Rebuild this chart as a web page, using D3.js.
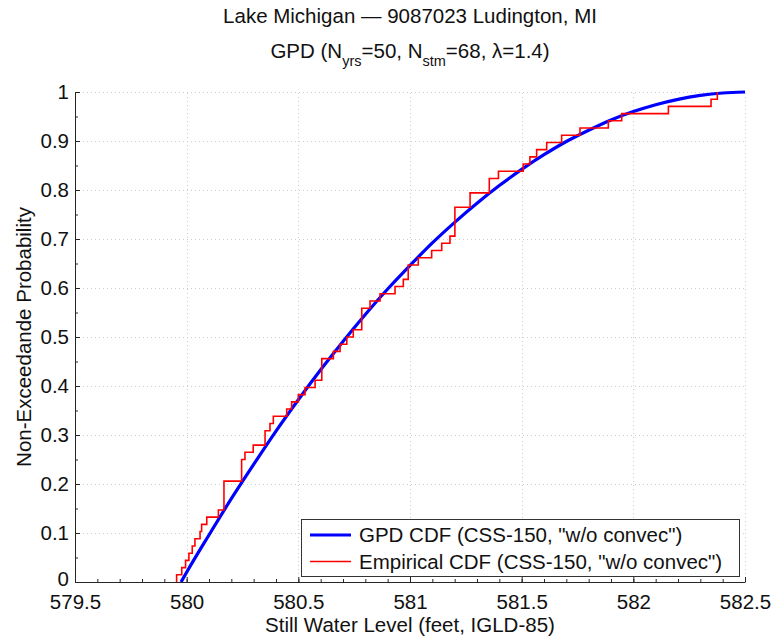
<!DOCTYPE html>
<html>
<head>
<meta charset="utf-8">
<script src="https://cdn.jsdelivr.net/npm/d3@7"></script>
<style>
  html, body { margin: 0; padding: 0; background: #ffffff; }
  svg { display: block; font-family: "Liberation Sans", Arial, Helvetica, sans-serif; }
</style>
</head>
<body>
<svg id="chart" width="774" height="639"></svg>
<script>
// Sorted storm still-water levels (ft, IGLD-85), 68 storms
const stormLevels = [
  579.955, 579.978, 579.995, 580.010, 580.025, 580.037, 580.060, 580.067, 580.090, 580.142,
  580.167, 580.167, 580.167, 580.167, 580.246, 580.246, 580.246, 580.261, 580.298, 580.351,
  580.351, 580.373, 580.388, 580.448, 580.470, 580.500, 580.530, 580.575, 580.605, 580.605,
  580.605, 580.657, 580.687, 580.717, 580.746, 580.784, 580.784, 580.784, 580.821, 580.866,
  580.933, 580.970, 580.992, 580.992, 581.037, 581.097, 581.142, 581.179, 581.201, 581.201,
  581.201, 581.201, 581.269, 581.269, 581.355, 581.355, 581.396, 581.507, 581.537, 581.567,
  581.612, 581.679, 581.761, 581.888, 581.948, 582.157, 582.348, 582.376
];

// Fitted GPD CDF sampled along the water level axis
const gpdLevels = [
  579.975, 580.0, 580.1, 580.2, 580.3, 580.4, 580.5, 580.6, 580.7, 580.8, 580.9,
  581.0, 581.1, 581.2, 581.3, 581.4, 581.5, 581.6, 581.7, 581.8, 581.9,
  582.0, 582.1, 582.2, 582.3, 582.4, 582.5
];
const gpdProb = [
  0.000, 0.020, 0.096, 0.170, 0.240, 0.308, 0.372, 0.433, 0.491, 0.546, 0.598,
  0.646, 0.692, 0.734, 0.773, 0.809, 0.842, 0.872, 0.899, 0.922, 0.943,
  0.960, 0.974, 0.985, 0.993, 0.998, 1.000
];

// Axis ticks
const xMajorTicks = [579.5, 580, 580.5, 581, 581.5, 582, 582.5];
const yMajorTicks = [0, 0.1, 0.2, 0.3, 0.4, 0.5, 0.6, 0.7, 0.8, 0.9, 1];
const xMinorTicks = d3.range(0, 31).map(i => +(579.5 + i * 0.1).toFixed(2));
const yMinorTicks = d3.range(0, 21).map(i => +(i * 0.05).toFixed(2));

const legendLabels = [
  'GPD CDF (CSS-150, "w/o convec")',
  'Empirical CDF (CSS-150, "w/o convec")'
];
const seriesColors = ["#0000ff", "#ff0000"];

const svg = d3.select("#chart");
const margin = { left: 75, right: 29, top: 92, bottom: 57 };
const W = 774, H = 639;
const plotW = W - margin.left - margin.right;
const plotH = H - margin.top - margin.bottom;

const x = d3.scaleLinear().domain([579.5, 582.5]).range([margin.left, margin.left + plotW]);
const y = d3.scaleLinear().domain([0, 1]).range([margin.top + plotH, margin.top]);

const FS = 20.5;
const textColor = "#111";

// Dotted gridlines at major ticks
const grid = svg.append("g").attr("class", "grid")
  .attr("stroke", "#cdcdcd").attr("stroke-width", 1).attr("stroke-dasharray", "1,3");
grid.selectAll("line.gx").data(xMajorTicks.slice(1)).join("line")
  .attr("class", "gx")
  .attr("x1", d => Math.round(x(d)) + 0.5).attr("x2", d => Math.round(x(d)) + 0.5)
  .attr("y1", y(0)).attr("y2", y(1));
grid.selectAll("line.gy").data(yMajorTicks.slice(1)).join("line")
  .attr("class", "gy")
  .attr("y1", d => Math.round(y(d)) + 0.5).attr("y2", d => Math.round(y(d)) + 0.5)
  .attr("x1", x(579.5)).attr("x2", x(582.5));

// Empirical CDF as a staircase
const n = stormLevels.length;
const ecdfPoints = [[stormLevels[0], 0]].concat(stormLevels.map((v, i) => [v, (i + 1) / n]));
const stairLine = d3.line().x(d => x(d[0])).y(d => y(d[1])).curve(d3.curveStepAfter);

// GPD CDF curve
const gpdPoints = gpdLevels.map((v, i) => [v, gpdProb[i]]);
const smoothLine = d3.line().x(d => x(d[0])).y(d => y(d[1])).curve(d3.curveMonotoneX);

svg.append("path").datum(gpdPoints)
  .attr("d", smoothLine)
  .attr("fill", "none").attr("stroke", seriesColors[0]).attr("stroke-width", 3.2)
  .attr("stroke-linejoin", "round");

svg.append("path").datum(ecdfPoints)
  .attr("d", stairLine)
  .attr("fill", "none").attr("stroke", seriesColors[1]).attr("stroke-width", 1.6);

// Axes: major ticks with labels, minor ticks pointing inward
const axisColor = "#262626";
function styleAxis(g) {
  g.selectAll("path.domain").attr("stroke", axisColor);
  g.selectAll(".tick line").attr("stroke", axisColor);
  g.selectAll(".tick text").attr("fill", textColor).attr("font-size", FS)
    .attr("font-family", '"Liberation Sans", Arial, sans-serif');
}

const xAxis = svg.append("g")
  .attr("transform", `translate(0,${y(0)})`)
  .call(d3.axisBottom(x).tickValues(xMajorTicks).tickSizeInner(-5).tickSizeOuter(0)
    .tickPadding(12).tickFormat(d => String(d)));
styleAxis(xAxis);

svg.append("g")
  .attr("transform", `translate(0,${y(0)})`)
  .call(d3.axisBottom(x).tickValues(xMinorTicks).tickSizeInner(-3).tickSizeOuter(0).tickFormat(""))
  .call(g => g.select("path.domain").remove())
  .call(styleAxis);

const yAxis = svg.append("g")
  .attr("transform", `translate(${x(579.5)},0)`)
  .call(d3.axisLeft(y).tickValues(yMajorTicks).tickSizeInner(-5).tickSizeOuter(0)
    .tickPadding(6).tickFormat(d => String(+d.toFixed(2))));
styleAxis(yAxis);
// keep the bottom "0" clear of the first level label
yAxis.selectAll(".tick").filter(d => d === 0).select("text").attr("dy", "0.18em");

svg.append("g")
  .attr("transform", `translate(${x(579.5)},0)`)
  .call(d3.axisLeft(y).tickValues(yMinorTicks).tickSizeInner(-3).tickSizeOuter(0).tickFormat(""))
  .call(g => g.select("path.domain").remove())
  .call(styleAxis);

// Axis titles
svg.append("text")
  .attr("x", x(581)).attr("y", 632)
  .attr("text-anchor", "middle").attr("font-size", FS).attr("fill", textColor)
  .text("Still Water Level (feet, IGLD-85)");

svg.append("text")
  .attr("transform", `translate(31,${y(0.5)}) rotate(-90)`)
  .attr("text-anchor", "middle").attr("font-size", FS).attr("fill", textColor)
  .text("Non-Exceedande Probability");

// Titles
const cx = x(581);
svg.append("text")
  .attr("x", cx).attr("y", 23)
  .attr("text-anchor", "middle").attr("font-size", FS).attr("fill", textColor)
  .text("Lake Michigan \u2014 9087023 Ludington, MI");

const sub = svg.append("text")
  .attr("x", cx).attr("y", 58)
  .attr("text-anchor", "middle").attr("font-size", FS).attr("fill", textColor);
const subParts = [
  ["GPD (N", 0], ["yrs", 1], ["=50, N", 0], ["stm", 1], ["=68, \u03bb=1.4)", 0]
];
let prevSub = 0;
subParts.forEach(([t, s]) => {
  const shift = (s ? 8 : 0) - (prevSub ? 8 : 0);
  sub.append("tspan").attr("dy", shift).attr("font-size", s ? 14.5 : FS).text(t);
  prevSub = s;
});

// Legend
const lg = svg.append("g").attr("class", "legend");
lg.append("rect")
  .attr("x", 301.5).attr("y", 519.5).attr("width", 438).attr("height", 57)
  .attr("fill", "#ffffff").attr("stroke", "#333").attr("stroke-width", 1);
legendLabels.forEach((label, i) => {
  const ly = 535 + i * 26.5;
  lg.append("line")
    .attr("x1", 310).attr("x2", 351).attr("y1", ly).attr("y2", ly)
    .attr("stroke", seriesColors[i]).attr("stroke-width", i === 0 ? 3 : 1.6);
  lg.append("text")
    .attr("x", 359).attr("y", ly + 7)
    .attr("font-size", FS).attr("fill", textColor)
    .text(label);
});
</script>
</body>
</html>
